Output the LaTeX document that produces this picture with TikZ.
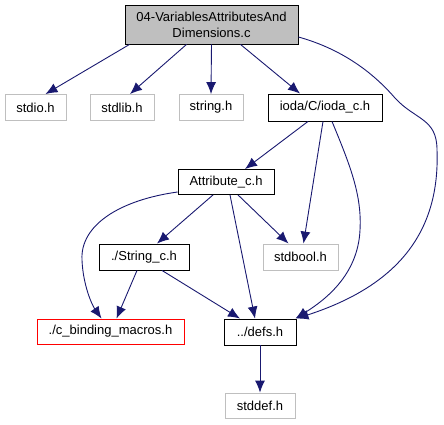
\documentclass[tikz,border=0pt]{standalone}
\usepackage{fontspec}
\setmainfont{Liberation Sans}
\usetikzlibrary{arrows.meta}
\definecolor{edgeblue}{HTML}{191970}
\definecolor{boxgray}{HTML}{BFBFBF}
\tikzset{
  box/.style={rectangle, draw=black, line width=0.9pt, inner sep=0pt, minimum height=26pt, font=\fontsize{13}{16}\selectfont, align=center},
  sysbox/.style={box, draw=boxgray},
  redbox/.style={box, draw=red},
  mainbox/.style={box, fill=boxgray},
  edge/.style={draw=edgeblue, line width=0.9pt, -{Latex[length=12pt,width=10pt]}},
}
\begin{document}
\begin{tikzpicture}[x=1pt,y=-1pt]
\useasboundingbox (0,0) rectangle (444,425);
\node[mainbox, minimum width=173pt, minimum height=39pt] (top) at (211.5,24.5) {04-VariablesAttributesAnd\\Dimensions.c};
\node[sysbox, minimum width=61pt] (stdio) at (35.5,107.5) {stdio.h};
\node[sysbox, minimum width=64pt] (stdlib) at (122,107.5) {stdlib.h};
\node[sysbox, minimum width=64pt] (string) at (211,107.5) {string.h};
\node[box, minimum width=114pt, minimum height=27pt] (ioda) at (325,107.5) {ioda/C/ioda\_c.h};
\node[box, minimum width=96pt, minimum height=25pt] (attr) at (226,182) {Attribute\_c.h};
\node[box, minimum width=90pt] (strc) at (144,257) {./String\_c.h};
\node[sysbox, minimum width=75pt] (stdbool) at (300.5,257) {stdbool.h};
\node[redbox, minimum width=147pt, minimum height=25pt] (cbind) at (110.5,331.5) {./c\_binding\_macros.h};
\node[box, minimum width=72pt] (defs) at (260,332) {../defs.h};
\node[sysbox, minimum width=70pt, minimum height=25pt] (stddef) at (260,405.5) {stddef.h};

\draw[edge] ([xshift=-82pt]top.south) -- ([xshift=10pt]stdio.north);
\draw[edge] ([xshift=-25pt]top.south) -- ([xshift=8pt]stdlib.north);
\draw[edge] (top.south) -- (string.north);
\draw[edge] ([xshift=29pt]top.south) -- ([xshift=-25pt]ioda.north);
\draw[edge] ([yshift=-12.5pt]top.east) .. controls (345,50) and (375,75) .. (395,98)
  .. controls (415,120) and (437,118) .. (437,150)
  .. controls (440,230) and (400,285) .. (defs.north east);
\draw[edge] ([xshift=-17pt]ioda.south) -- ([xshift=19pt]attr.north);
\draw[edge] ([xshift=-2pt]ioda.south) -- ([xshift=3pt]stdbool.north);
\draw[edge] ([xshift=7pt]ioda.south) .. controls (350,165) and (362,195) .. (360,230)
  .. controls (358,275) and (325,300) .. ([xshift=-1pt]defs.north east);
\draw[edge] ([yshift=-10pt]attr.west) .. controls (120,200) and (80,225) .. (82,260)
  .. controls (83,285) and (92,305) .. ([xshift=-9pt]cbind.north);
\draw[edge] ([xshift=-13pt]attr.south) -- ([xshift=13pt]strc.north);
\draw[edge] ([xshift=4pt]attr.south) -- ([xshift=-5pt]defs.north);
\draw[edge] ([xshift=12pt]attr.south) -- ([xshift=-12pt]stdbool.north);
\draw[edge] ([xshift=-7pt]strc.south) -- ([xshift=6pt]cbind.north);
\draw[edge] ([xshift=18pt]strc.south) -- ([xshift=-20pt]defs.north);
\draw[edge] (defs) -- (stddef);
\end{tikzpicture}
\end{document}
